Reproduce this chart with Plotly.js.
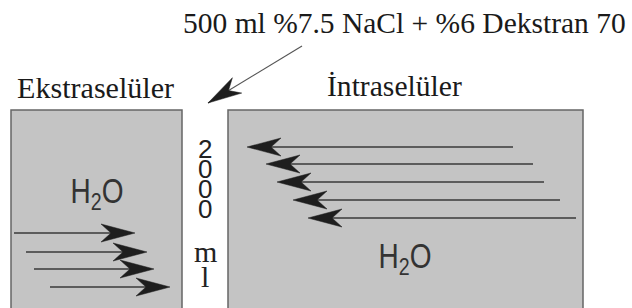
<!DOCTYPE html>
<html><head><meta charset="utf-8">
<script src="https://cdn.plot.ly/plotly-3.0.1.min.js"></script>
<style>html,body{margin:0;padding:0;background:#fff}#chart{width:632px;height:308px}</style>
</head><body><div id="chart"></div>
<script>
// ---- content / data ----
const titleText = '500 ml %7.5 NaCl + %6 Dekstran 70';
const compartmentLabels = ['Ekstraselüler', 'İntraselüler'];
const waterLabel = 'H<sub>2</sub>O';
const columnDigits = ['2', '0', '0', '0'];
const columnUnit = ['m', 'l'];
// compartment extents (axis units)
const compartmentLeft = [11, 228];
const compartmentRight = [182, 583];
// water arrows into extracellular space (pointing right)
const extraArrowTail = [14, 26, 34, 50];
const extraArrowTip = [135, 147, 154, 170];
const extraArrowLevel = [233, 252, 269, 287];
// water arrows out of intracellular space (pointing left)
const intraArrowTail = [513, 533, 544, 560, 576];
const intraArrowTip = [247, 266, 277, 293, 308];
const intraArrowLevel = [147, 164, 182, 200, 218];
// infusion arrow [x, y]
const infusionTail = [302, 46];
const infusionTip = [208, 103];

// ---- build ----
const HEAD_LEN = 34, HEAD_HALF = 9, HEAD_NOTCH = 24;
function headPoly(tx, ty, sx, sy, xs, ys) {
  const dx = tx - sx, dy = ty - sy, L = Math.hypot(dx, dy);
  const ux = dx / L, uy = dy / L, nx = -uy, ny = ux;
  const bx = tx - HEAD_LEN * ux, by = ty - HEAD_LEN * uy;
  xs.push(tx, bx + HEAD_HALF * nx, tx - HEAD_NOTCH * ux, bx - HEAD_HALF * nx, tx, null);
  ys.push(ty, by + HEAD_HALF * ny, ty - HEAD_NOTCH * uy, by - HEAD_HALF * ny, ty, null);
}
const lx = [], ly = [], hx = [], hy = [];
extraArrowTail.forEach((t, i) => {
  lx.push(t, extraArrowTip[i] - 20, null); ly.push(extraArrowLevel[i], extraArrowLevel[i], null);
  headPoly(extraArrowTip[i], extraArrowLevel[i], t, extraArrowLevel[i], hx, hy);
});
intraArrowTail.forEach((t, i) => {
  lx.push(t, intraArrowTip[i] + 20, null); ly.push(intraArrowLevel[i], intraArrowLevel[i], null);
  headPoly(intraArrowTip[i], intraArrowLevel[i], t, intraArrowLevel[i], hx, hy);
});
const ix = [infusionTail[0], infusionTip[0]], iy = [infusionTail[1], infusionTip[1]];
headPoly(infusionTip[0], infusionTip[1], infusionTail[0], infusionTail[1], hx, hy);

const traces = [
  {x: lx, y: ly, mode: 'lines', line: {color: '#3a3a3a', width: 1.6}, hoverinfo: 'skip', showlegend: false},
  {x: ix, y: iy, mode: 'lines', line: {color: '#555', width: 1.2}, hoverinfo: 'skip', showlegend: false},
  {x: hx, y: hy, mode: 'lines', fill: 'toself', fillcolor: '#1e1e1e', line: {color: '#1e1e1e', width: 0.5}, hoverinfo: 'skip', showlegend: false}
];

const shapes = compartmentLeft.map((l, i) => ({
  type: 'rect', xref: 'x', yref: 'y', x0: l, x1: compartmentRight[i], y0: 110, y1: 330,
  fillcolor: '#c4c4c4', line: {color: '#666', width: 1.5}, layer: 'below'
}));

const serif = 'Liberation Serif, Times New Roman, serif';
const sans = 'Liberation Sans, Arial, sans-serif';
// font size that makes a text span a given width (widths)
const ctx = document.createElement('canvas').getContext('2d');
function fitSize(text, cssFamily, width) {
  ctx.font = '100px ' + cssFamily;
  return Math.round(1000 * width / ctx.measureText(text).width) / 10;
}
const serifCss = '"Liberation Serif", "Times New Roman", serif';
const titleSize = fitSize(titleText, serifCss, 442);
const extraSize = fitSize(compartmentLabels[0], serifCss, 157);
const intraSize = fitSize(compartmentLabels[1], serifCss, 135);

const ann = [];
ann.push({text: titleText, x: 182, y: 23, xanchor: 'left', yanchor: 'middle', font: {family: serif, size: titleSize, color: '#1a1a1a'}});
ann.push({text: compartmentLabels[0], x: 16, y: 88, xanchor: 'left', yanchor: 'middle', font: {family: serif, size: extraSize, color: '#1a1a1a'}});
ann.push({text: compartmentLabels[1], x: 326, y: 86, xanchor: 'left', yanchor: 'middle', font: {family: serif, size: intraSize, color: '#1a1a1a'}});
ann.push({text: waterLabel, x: 97, y: 193, xanchor: 'center', yanchor: 'middle', font: {family: sans, size: 35, color: '#333'}});
ann.push({text: waterLabel, x: 405, y: 258, xanchor: 'center', yanchor: 'middle', font: {family: sans, size: 35, color: '#333'}});
columnDigits.forEach((c, i) => ann.push({text: c, x: 205, y: 149 + 20 * i, xanchor: 'center', yanchor: 'middle', font: {family: sans, size: 26, color: '#222'}}));
columnUnit.forEach((c, i) => ann.push({text: c, x: 205, y: 251 + 25 * i, xanchor: 'center', yanchor: 'middle', font: {family: serif, size: 30, color: '#222'}}));
ann.forEach(a => { a.xref = 'x'; a.yref = 'y'; a.showarrow = false; a.borderpad = 0; });

const layout = {
  width: 632, height: 308, margin: {l: 0, r: 0, t: 0, b: 0},
  paper_bgcolor: '#fff', plot_bgcolor: '#fff',
  xaxis: {range: [0, 632], visible: false, fixedrange: true},
  yaxis: {range: [308, 0], visible: false, fixedrange: true},
  shapes: shapes, annotations: ann, showlegend: false
};
Plotly.newPlot('chart', traces, layout, {staticPlot: true, displayModeBar: false}).then(() => {
  // the H2O labels in the original use a condensed face: compress horizontally
  document.querySelectorAll('.annotation-text').forEach(t => {
    const s = (t.textContent || '').replace(/[\u200b\s]/g, '');
    if (s === 'H2O') {
      const b = t.getBBox();
      const cx = b.x + b.width / 2;
      const prev = t.getAttribute('transform') || '';
      t.setAttribute('transform', (prev + ' translate(' + cx + ',0) scale(0.8,1) translate(' + (-cx) + ',0)').trim());
    }
  });
});
</script></body></html>
